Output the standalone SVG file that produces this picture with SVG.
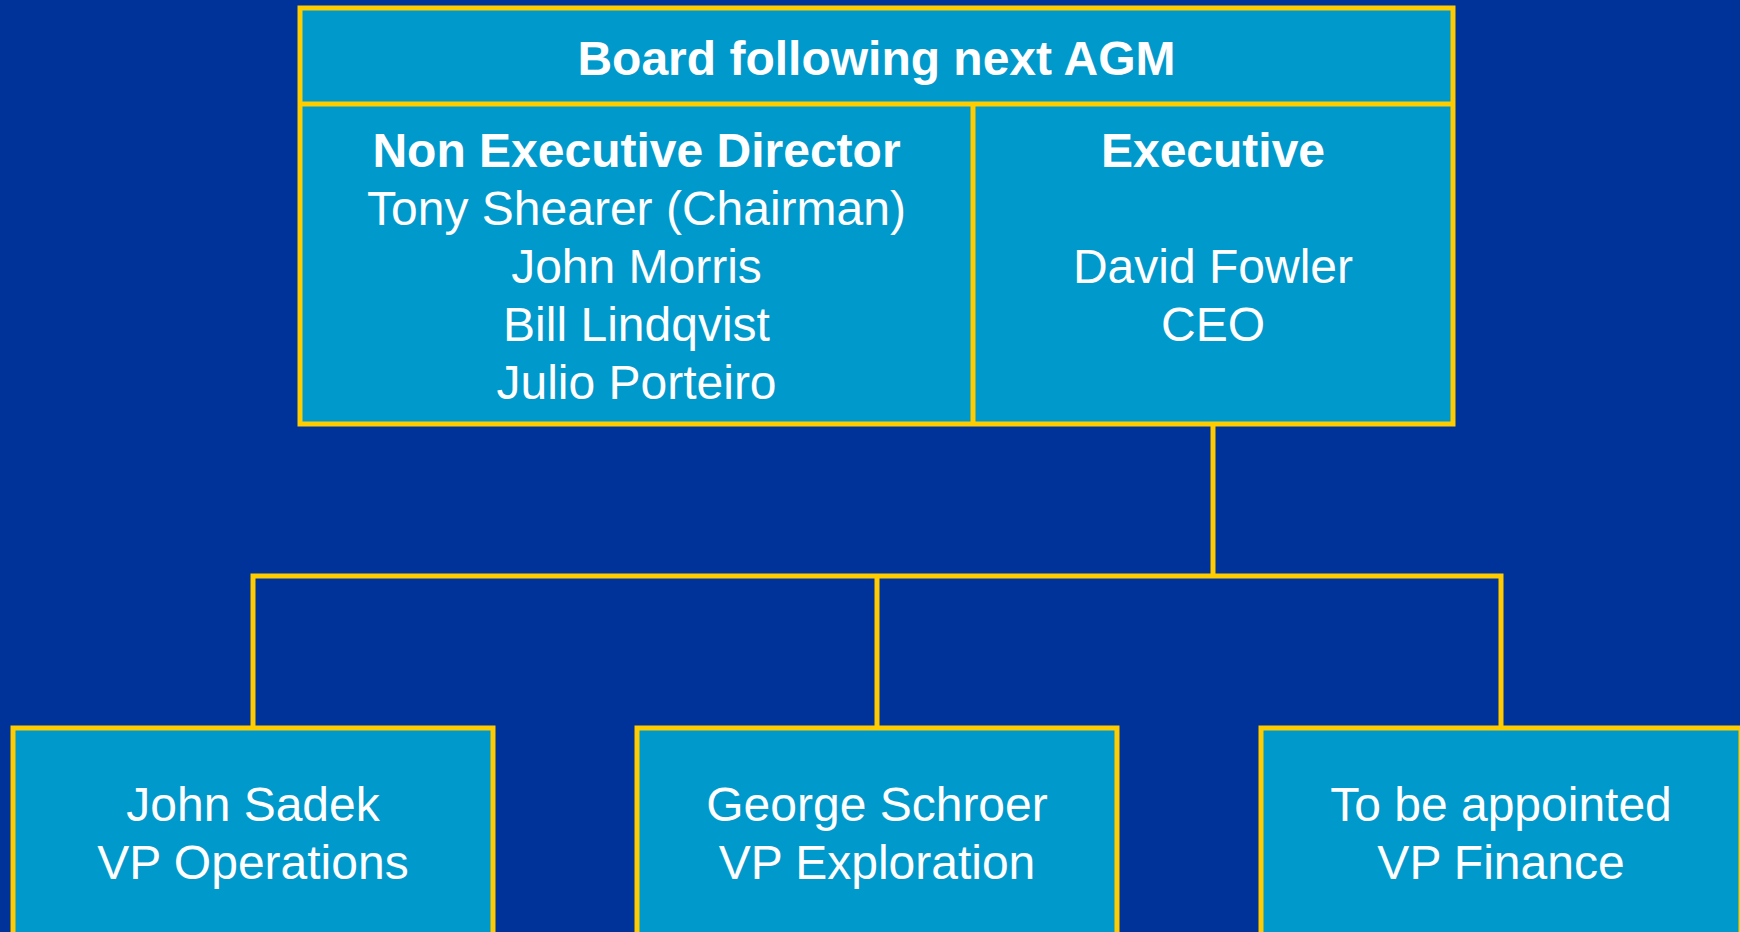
<svg xmlns="http://www.w3.org/2000/svg" width="1740" height="932" viewBox="0 0 1740 932">
<style>
.box{fill:#0099CC;stroke:#FFCC00;stroke-width:5}
.ln{fill:none;stroke:#FFCC00;stroke-width:5}
text{font-family:"Liberation Sans",Arial,sans-serif;font-size:48px;fill:#FFFFFF;text-anchor:middle}
.b{font-weight:bold}
</style>
<rect x="0" y="0" width="1740" height="932" fill="#003399"/>
<g id="connectors">
<path class="ln" d="M1213,424 V576"/>
<path class="ln" d="M253,728 V576 H1501 V728"/>
<path class="ln" d="M877,576 V728"/>
</g>
<g id="board">
<rect class="box" x="300" y="8" width="1153" height="416"/>
<line class="ln" x1="300" y1="104" x2="1453" y2="104"/>
<line class="ln" x1="973" y1="104" x2="973" y2="424"/>
<text class="b" x="876.5" y="75">Board following next AGM</text>
</g>
<g id="non-executive">
<text class="b" x="636.5" y="167">Non Executive Director</text>
<text x="636.5" y="225">Tony Shearer (Chairman)</text>
<text x="636.5" y="283">John Morris</text>
<text x="636.5" y="341">Bill Lindqvist</text>
<text x="636.5" y="399">Julio Porteiro</text>
</g>
<g id="executive">
<text class="b" x="1213" y="167">Executive</text>
<text x="1213" y="283">David Fowler</text>
<text x="1213" y="341">CEO</text>
</g>
<g id="vp-operations">
<rect class="box" x="13" y="728" width="480" height="240"/>
<text x="253" y="821">John Sadek</text>
<text x="253" y="879">VP Operations</text>
</g>
<g id="vp-exploration">
<rect class="box" x="637" y="728" width="480" height="240"/>
<text x="877" y="821">George Schroer</text>
<text x="877" y="879">VP Exploration</text>
</g>
<g id="vp-finance">
<rect class="box" x="1261" y="728" width="480" height="240"/>
<text x="1501" y="821">To be appointed</text>
<text x="1501" y="879">VP Finance</text>
</g>
</svg>
